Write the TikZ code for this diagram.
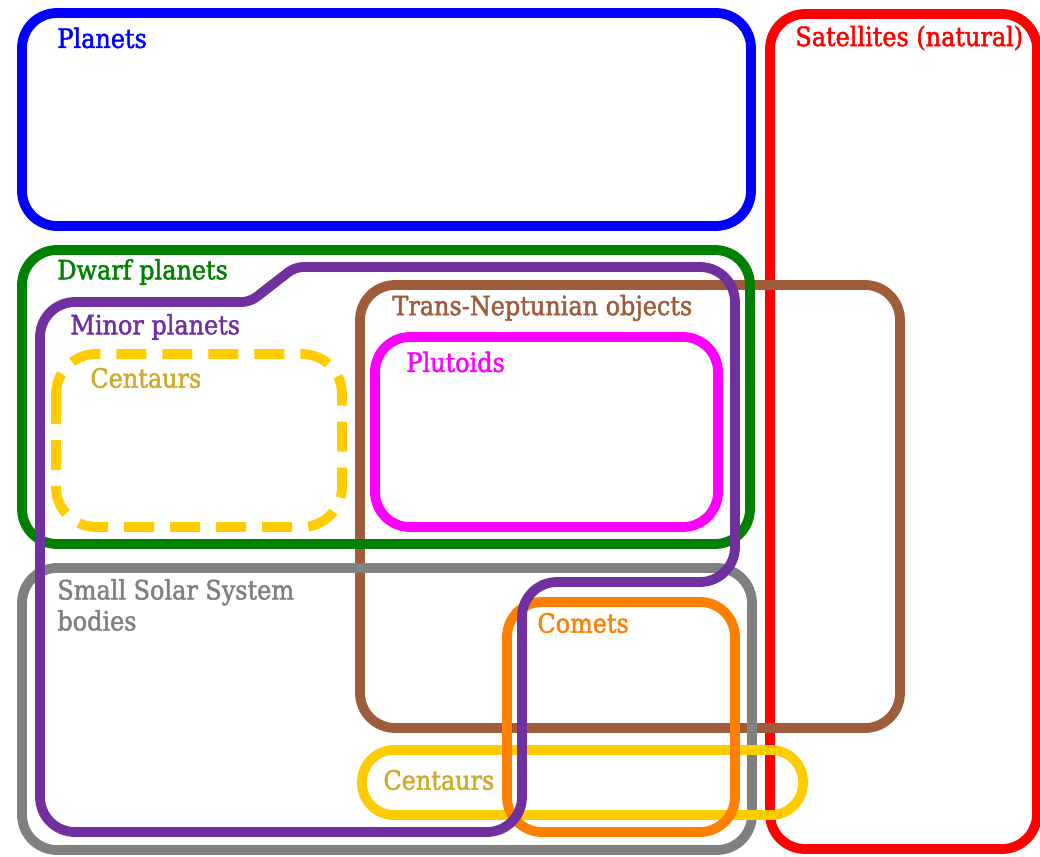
\documentclass[tikz,border=0pt]{standalone}
\usepackage{fontspec}
\setmainfont{DejaVu Serif Condensed}[FakeBold=1.8]
\usetikzlibrary{positioning}

\definecolor{planetblue}{RGB}{0,0,255}
\definecolor{satred}{RGB}{255,0,0}
\definecolor{dwarfgreen}{RGB}{0,128,0}
\definecolor{minorpurple}{RGB}{112,48,160}
\definecolor{tnobrown}{RGB}{158,92,58}
\definecolor{plutomagenta}{RGB}{255,0,255}
\definecolor{centyellow}{RGB}{255,204,0}
\definecolor{centtext}{RGB}{205,170,40}
\definecolor{sssgray}{RGB}{128,128,128}
\definecolor{cometorange}{RGB}{255,128,0}

\begin{document}
\begin{tikzpicture}[x=0.5pt,y=-0.5pt,
    set/.style={line width=4.9pt,rounded corners=17.5pt},
    setlabel/.style={anchor=west,inner sep=0pt,font=\fontsize{13.3}{15.5}\selectfont}]
  \useasboundingbox (0,0) rectangle (1040,857);

  % the sets
  \draw[set,planetblue] (22,13) rectangle (751,226);
  \draw[set,satred] (770,14) rectangle (1037,849);
  \draw[set,tnobrown] (360,285) rectangle (900,728);
  \draw[set,plutomagenta] (375,337) rectangle (718,527);
  \draw[set,centyellow,rounded corners=20pt,dash pattern=on 15pt off 8pt]
    (56,354) rectangle (342,527);
  \draw[set,dwarfgreen] (22,250) rectangle (750,544);
  \draw[set,sssgray] (22,568) rectangle (752,850);
  \draw[set,centyellow,rounded corners=16pt] (362,750) rectangle (803,815);
  \draw[set,cometorange] (507,602) rectangle (735,832);
  \draw[set,minorpurple] (40,600) -- (40,302) [rounded corners=4pt] -- (250,302)
    -- (295,267) [rounded corners=17.5pt] -- (735,267) -- (735,582)
    -- (522,582) -- (522,832) -- (40,832) -- cycle;

  % the labels
  \node[setlabel,text=planetblue] (planets) at (57,38) {Planets};
  \node[setlabel,text=satred] (satellites) at (795,38) {Satellites (natural)};
  \node[setlabel,text=dwarfgreen] (dwarf) at (57,272) {Dwarf planets};
  \node[setlabel,text=minorpurple] (minor) at (70,327) {Minor planets};
  \node[setlabel,text=centtext] (centaurs) at (90,378) {Centaurs};
  \node[setlabel,text=tnobrown] (tno) at (392,308) {Trans-Neptunian objects};
  \node[setlabel,text=plutomagenta] (plutoids) at (406,362) {Plutoids};
  \node[setlabel,text=sssgray,align=left] (sssb) at (57,605)
    {Small Solar System\\bodies};
  \node[setlabel,text=cometorange] (comets) at (537,623) {Comets};
  \node[setlabel,text=centtext] (centaurslow) at (383,780) {Centaurs};
\end{tikzpicture}
\end{document}
